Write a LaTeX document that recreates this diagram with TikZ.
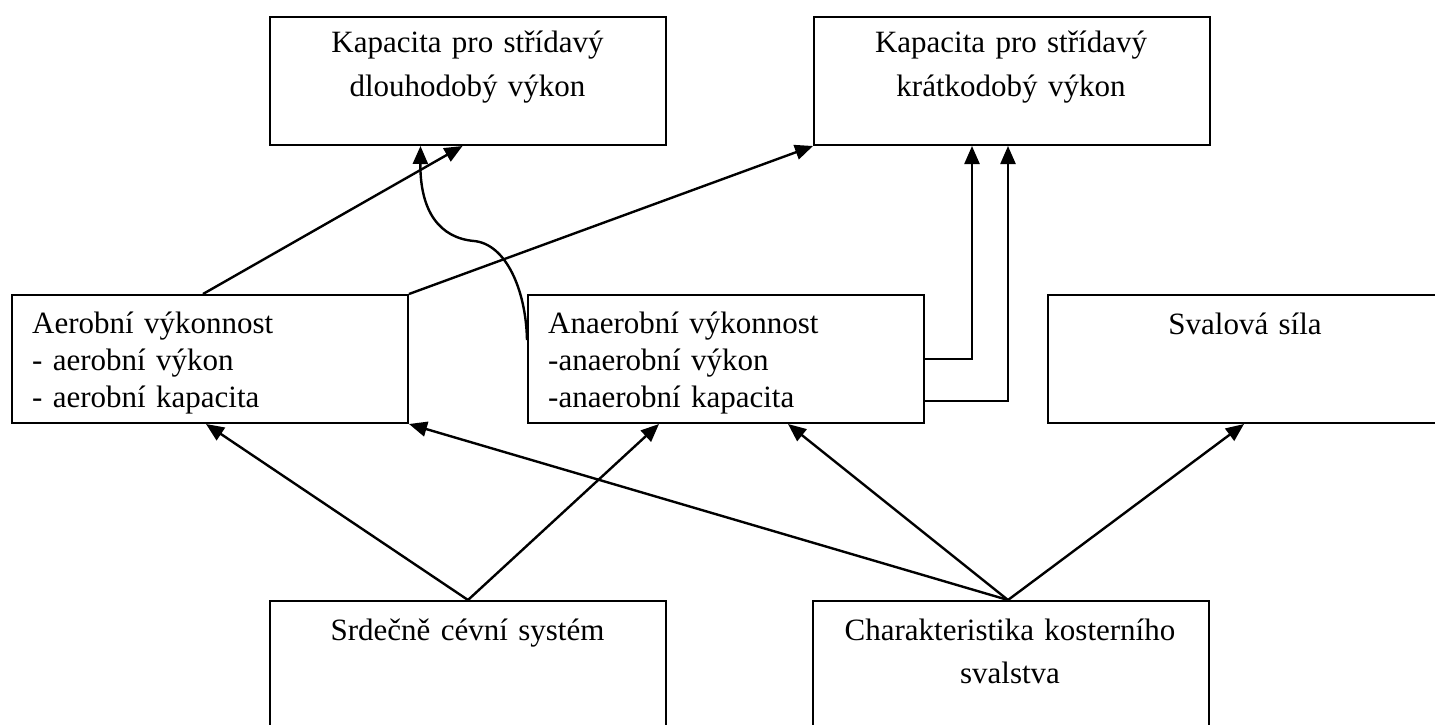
\documentclass[tikz,border=0pt]{standalone}
\usepackage{fontspec}
\setmainfont{Liberation Serif}
\usetikzlibrary{arrows.meta}
\begin{document}
\begin{tikzpicture}[x=1pt,y=-1pt,
  box/.style={draw=black,line width=2pt,minimum width=396pt,minimum height=128pt,inner sep=0pt,anchor=north west},
  tallbox/.style={box,minimum height=200pt},
  ctxt/.style={anchor=base,inner sep=0pt,text width=396pt,align=center,font=\fontsize{31}{43.5}\selectfont},
  ltxt/.style={anchor=base west,inner sep=0pt,text width=370pt,align=left,font=\fontsize{31}{37}\selectfont},
  conn/.style={draw=black,line width=2.4pt,-{Triangle[length=18pt,width=15pt]}},
  link/.style={draw=black,line width=2.4pt}]
\useasboundingbox (0,0) rectangle (1435,725);
\clip (0,0) rectangle (1435,725);
% boxes
\node[box] (k1) at (269,16) {};
\node[box] (k2) at (813,16) {};
\node[box] (aer) at (11,294) {};
\node[box] (ana) at (527,294) {};
\node[box] (sil) at (1047,294) {};
\node[tallbox] (srd) at (269,600) {};
\node[tallbox] (cha) at (812,600) {};
% texts
\node[ctxt] (tk1) at (467.5,53) {Kapacita pro střídavý\\dlouhodobý výkon};
\node[ctxt] (tk2) at (1011,53) {Kapacita pro střídavý\\krátkodobý výkon};
\node[ltxt] (taer) at (32,333) {Aerobní výkonnost\\- aerobní výkon\\- aerobní kapacita};
\node[ltxt] (tana) at (548,333) {Anaerobní výkonnost\\-anaerobní výkon\\-anaerobní kapacita};
\node[ctxt] (tsil) at (1245,334) {Svalová síla};
\node[ctxt] (tsrd) at (467.5,640) {Srdečně cévní systém};
\node[ctxt] (tcha) at (1010,640) {Charakteristika kosterního\\svalstva};
% connectors to top boxes
\draw[conn] ([xshift=-7pt]aer.north) -- ([xshift=-5.5pt]k1.south);
\draw[conn] ([yshift=-46pt]ana.north west) .. controls (526,290) and (506,244) .. (474,241)
   .. controls (440,238) and (420,212) .. ([xshift=-47.5pt]k1.south);
\draw[conn] (aer.north east) -- (k2.south west);
\draw[conn] (ana.east) -| ([xshift=-40pt]k2.south);
\draw[conn] ([yshift=-42pt]ana.east) -| ([xshift=-4pt]k2.south);
% connectors from bottom boxes
\draw[conn] (srd.north) -- ([xshift=-4pt]aer.south);
\draw[conn] (srd.north) -- ([xshift=-67pt]ana.south);
\draw[conn] ([xshift=-3pt]cha.north) -- (aer.south east);
\draw[conn] ([xshift=-3pt]cha.north) -- ([xshift=62pt]ana.south);
\draw[conn] ([xshift=-3pt]cha.north) -- ([xshift=-2pt]sil.south);
\end{tikzpicture}
\end{document}
